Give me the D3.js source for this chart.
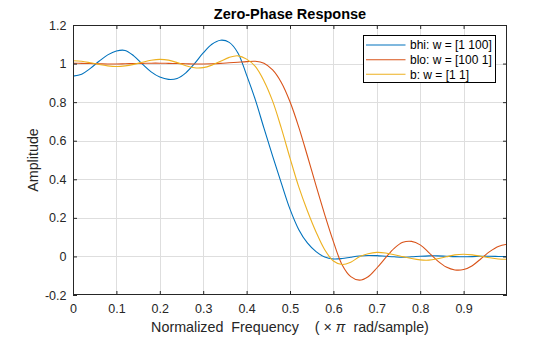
<!DOCTYPE html>
<html>
<head>
<meta charset="utf-8">
<script src="https://cdn.jsdelivr.net/npm/d3@7/dist/d3.min.js"></script>
<style>
  body { margin: 0; background: #fff; }
  svg { display: block; font-family: "Liberation Sans", Arial, Helvetica, sans-serif; }
</style>
</head>
<body>
<svg id="chart" width="560" height="337"></svg>
<script>
// ---- data ----
const freq = [0.00,0.02,0.04,0.06,0.08,0.10,0.12,0.14,0.16,0.18,
              0.20,0.22,0.24,0.26,0.28,0.30,0.32,0.34,0.36,0.38,
              0.40,0.42,0.44,0.46,0.48,0.50,0.52,0.54,0.56,0.58,
              0.60,0.62,0.64,0.66,0.68,0.70,0.72,0.74,0.76,0.78,
              0.80,0.82,0.84,0.86,0.88,0.90,0.92,0.94,0.96,0.98,1.00];

const bhi = [0.935,0.945,0.975,1.012,1.045,1.065,1.068,1.040,0.997,0.957,
             0.930,0.918,0.923,0.952,1.000,1.055,1.100,1.121,1.110,1.055,
             0.940,0.813,0.665,0.520,0.380,0.245,0.140,0.070,0.025,-0.003,
             -0.013,-0.011,-0.004,0.002,0.005,0.004,0.001,-0.002,-0.004,-0.002,
             0.001,0.003,0.003,0.001,-0.001,-0.002,-0.001,0.001,0.001,0.000,-0.001];

const blo = [1.002,1.001,1.000,0.999,0.998,0.998,0.999,1.000,1.001,1.002,
             1.002,1.001,1.000,0.999,0.998,0.998,0.999,1.001,1.004,1.007,
             1.010,1.012,1.002,0.967,0.902,0.802,0.672,0.522,0.367,0.217,
             0.077,-0.043,-0.105,-0.123,-0.105,-0.060,-0.008,0.042,0.073,0.078,
             0.060,0.020,-0.023,-0.055,-0.070,-0.068,-0.048,-0.012,0.025,0.052,0.063];

const b = [1.015,1.012,1.004,0.995,0.988,0.985,0.988,0.996,1.007,1.017,
           1.022,1.018,1.005,0.989,0.978,0.979,0.992,1.012,1.032,1.040,
           1.023,0.985,0.910,0.805,0.665,0.510,0.362,0.237,0.127,0.035,
           -0.024,-0.042,-0.030,-0.002,0.014,0.021,0.018,0.009,-0.001,-0.011,
           -0.018,-0.019,-0.012,-0.002,0.008,0.011,0.008,0.001,-0.007,-0.013,-0.015];

const seriesNames = ["bhi: w = [1 100]", "blo: w = [100 1]", "b: w = [1 1]"];
const seriesColors = ["#0072BD", "#D95319", "#EDB120"];

const xTicks = [0, 0.1, 0.2, 0.3, 0.4, 0.5, 0.6, 0.7, 0.8, 0.9];
const xTickLabels = ["0","0.1","0.2","0.3","0.4","0.5","0.6","0.7","0.8","0.9"];
const yTicks = [-0.2, 0, 0.2, 0.4, 0.6, 0.8, 1, 1.2];
const yTickLabels = ["-0.2","0","0.2","0.4","0.6","0.8","1","1.2"];

const titleText = "Zero-Phase Response";
const yLabelText = "Amplitude";

// ---- layout ----
const L = 73, R = 507, T = 25, B = 295;
const svg = d3.select("#chart");
const x = d3.scaleLinear().domain([0, 1]).range([L, R]);
const y = d3.scaleLinear().domain([-0.2, 1.2]).range([B, T]);
const axisColor = "#262626";

svg.append("rect").attr("x", L).attr("y", T).attr("width", R - L).attr("height", B - T).attr("fill", "#fff");

// grid
const grid = svg.append("g").attr("stroke", "#dedede").attr("stroke-width", 1);
xTicks.forEach(v => {
  if (v === 0) return;
  grid.append("line").attr("x1", Math.round(x(v)) + 0.5).attr("x2", Math.round(x(v)) + 0.5)
    .attr("y1", T).attr("y2", B);
});
yTicks.forEach(v => {
  if (v === -0.2 || v === 1.2) return;
  grid.append("line").attr("y1", Math.round(y(v)) + 0.5).attr("y2", Math.round(y(v)) + 0.5)
    .attr("x1", L).attr("x2", R);
});

// curves
const data = [bhi, blo, b];
const line = d3.line()
  .x((d, i) => x(freq[i]))
  .y(d => y(d))
  .curve(d3.curveCatmullRom.alpha(0.5));
svg.append("defs").append("clipPath").attr("id", "clip")
  .append("rect").attr("x", L).attr("y", T).attr("width", R - L).attr("height", B - T);
const curves = svg.append("g").attr("clip-path", "url(#clip)");
data.forEach((s, k) => {
  curves.append("path").datum(s).attr("d", line)
    .attr("fill", "none").attr("stroke", seriesColors[k]).attr("stroke-width", 1.1);
});

// axes
const fmtX = d => xTickLabels[xTicks.indexOf(d)];
const fmtY = d => yTickLabels[yTicks.indexOf(d)];
function styleAxis(g) {
  g.select(".domain").remove();
  g.selectAll(".tick line").attr("stroke", axisColor);
  g.selectAll(".tick text").attr("fill", axisColor).attr("font-size", "12.5px")
    .attr("font-family", "'Liberation Sans', Arial, Helvetica, sans-serif");
}
svg.append("g").attr("transform", `translate(0,${B})`)
  .call(d3.axisBottom(x).tickValues(xTicks).tickFormat(fmtX).tickSize(-4).tickPadding(9.5))
  .call(styleAxis);
svg.append("g").attr("transform", `translate(${L},0)`)
  .call(d3.axisLeft(y).tickValues(yTicks).tickFormat(fmtY).tickSize(-4).tickPadding(6.5))
  .call(styleAxis);
svg.append("g").attr("transform", `translate(0,${T})`)
  .call(d3.axisTop(x).tickValues(xTicks).tickFormat("").tickSize(-4))
  .call(styleAxis);
svg.append("g").attr("transform", `translate(${R},0)`)
  .call(d3.axisRight(y).tickValues(yTicks).tickFormat("").tickSize(-4))
  .call(styleAxis);

// box
svg.append("rect").attr("x", L + 0.5).attr("y", T + 0.5).attr("width", R - L - 1).attr("height", B - T - 1)
  .attr("fill", "none").attr("stroke", axisColor).attr("stroke-width", 1);

// title
svg.append("text").attr("x", (L + R) / 2).attr("y", 18.5).attr("text-anchor", "middle")
  .attr("font-weight", "bold").attr("font-size", "14.5px").attr("fill", "#000").text(titleText);

// y label
svg.append("text").attr("transform", `translate(38,${(T + B) / 2}) rotate(-90)`)
  .attr("text-anchor", "middle").attr("font-size", "14.3px").attr("fill", axisColor).text(yLabelText);

// x label
const xl = svg.append("text").attr("x", (L + R) / 2).attr("y", 332).attr("text-anchor", "middle")
  .attr("font-size", "14.3px").attr("fill", axisColor).attr("xml:space", "preserve");
xl.append("tspan").text("Normalized  Frequency    ( \u00D7 ");
xl.append("tspan").attr("font-style", "italic").text("\u03C0");
xl.append("tspan").text("  rad/sample)");

// legend
const lg = svg.append("g");
lg.append("rect").attr("x", 363.5).attr("y", 35.5).attr("width", 132).attr("height", 47)
  .attr("fill", "#fff").attr("stroke", "#000").attr("stroke-width", 1);
const rowY = [45, 59.7, 74.2];
seriesNames.forEach((n, k) => {
  lg.append("line").attr("x1", 366).attr("x2", 405.5).attr("y1", rowY[k]).attr("y2", rowY[k])
    .attr("stroke", seriesColors[k]).attr("stroke-width", 1.1);
  lg.append("text").attr("x", 410).attr("y", rowY[k]).attr("dy", "0.36em")
    .attr("font-size", "12px").attr("fill", "#000").text(n);
});
</script>
</body>
</html>
